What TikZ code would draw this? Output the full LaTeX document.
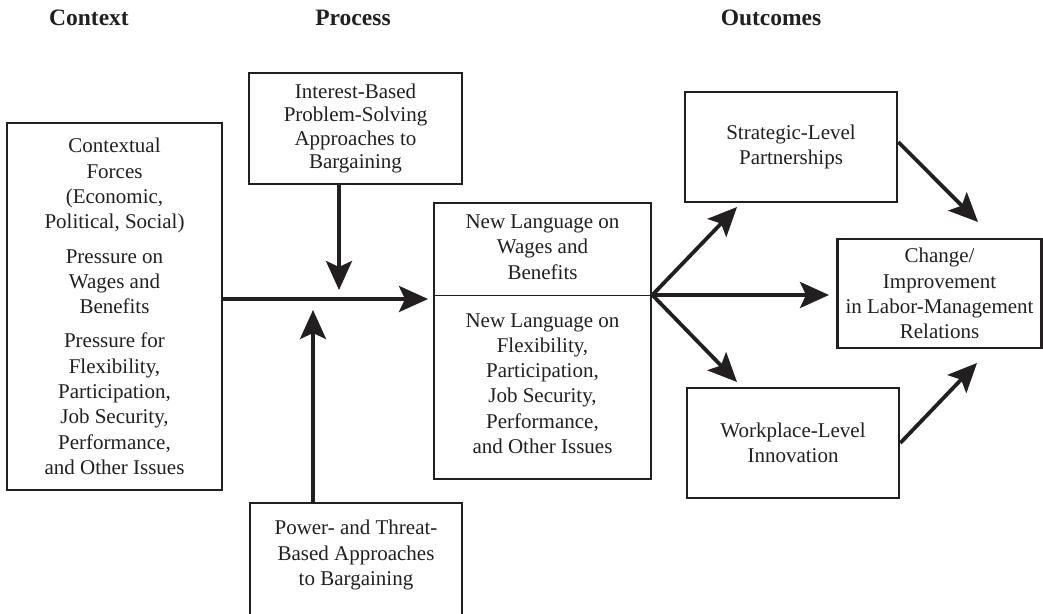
\documentclass[tikz,border=0pt]{standalone}
\usepackage{fontspec}
\setmainfont{Liberation Serif}
\usetikzlibrary{arrows.meta,calc}
\definecolor{ink}{HTML}{231F20}
\tikzset{
  box/.style={draw=ink, line width=2.6pt, align=center, inner sep=0pt, text=ink,
              font=\fontsize{21}{25.3}\selectfont},
  txt/.style={align=center, inner sep=0pt, text=ink, font=\fontsize{21}{25.3}\selectfont},
  head/.style={anchor=base, text=ink, font=\fontsize{23.5}{26}\selectfont\bfseries},
  arr/.style={draw=ink, line width=3.8pt,
              -{Stealth[length=29pt, width=26pt, inset=6pt]}},
}
\begin{document}
\begin{tikzpicture}[x=1pt, y=-1pt]
\path[use as bounding box] (0,0) rectangle (1043,613);
\clip (0,0) rectangle (1043,613);
\fill[white] (0,0) rectangle (1043,613);

% headings
\node[head] (hctx) at (89,25) {Context};
\node[head] (hproc) at (353,25) {Process};
\node[head] (hout) at (771,25) {Outcomes};

% context box
\node[box, minimum width=215pt, minimum height=367pt] (ctx) at (114.5,306.5)
  {Contextual\\Forces\\(Economic,\\Political, Social)\\[9pt]
   Pressure on\\Wages and\\Benefits\\[9pt]
   Pressure for\\Flexibility,\\Participation,\\Job Security,\\Performance,\\and Other Issues};

% interest-based box
\node[box, minimum width=213pt, minimum height=111pt,
      font=\fontsize{21}{23.3}\selectfont] (ib) at (355.5,128.5)
  {Interest-Based\\Problem-Solving\\Approaches to\\Bargaining};

% power box (extends below the page)
\node[box, minimum width=212pt, minimum height=140pt] (pw) at (356,573) {};
\node[txt] (pwt) at (356,555) {Power- and Threat-\\Based Approaches\\to Bargaining};

% new language box
\node[box, minimum width=217pt, minimum height=276pt] (nl) at (542.5,341) {};
\node[txt] (nl1) at (542.5,247) {New Language on\\Wages and\\Benefits};
\node[txt] (nl2) at (542.5,383.5) {New Language on\\Flexibility,\\Participation,\\Job Security,\\Performance,\\and Other Issues};
\coordinate (dv) at (0,295);
\draw[ink, line width=1pt] (nl.west |- dv) -- (nl.east |- dv);
\coordinate (fan) at (nl.east |- dv);

% outcomes
\node[box, minimum width=212pt, minimum height=110pt] (sp) at (791,147)
  {Strategic-Level\\Partnerships};
\node[box, minimum width=204pt, minimum height=109pt] (ch) at (939.5,293.5)
  {Change/\\Improvement\\in Labor-Management\\Relations};
\node[box, minimum width=212pt, minimum height=110pt] (wp) at (793,443)
  {Workplace-Level\\Innovation};

% arrows into the process
\coordinate (dtip) at (339,290);
\coordinate (utip) at (313,310);
\coordinate (htip) at (428,299);
\draw[arr] (ib.south -| dtip) -- (dtip);
\draw[arr] (pw.north -| utip) -- (utip);
\draw[arr] (ctx.east |- htip) -- (htip);

% fan out
\coordinate (t1) at (737,207);
\coordinate (t2) at (829,295);
\coordinate (t3) at (737,382);
\draw[arr] (fan) -- (t1);
\draw[arr] (fan) -- (t2);
\draw[arr] (fan) -- (t3);

% to change box
\coordinate (s1) at (898,142);
\coordinate (t4) at (978,222);
\coordinate (t5) at (977,363);
\draw[arr] (sp.east |- s1) -- (t4);
\draw[arr] (wp.east) -- (t5);
\end{tikzpicture}
\end{document}
